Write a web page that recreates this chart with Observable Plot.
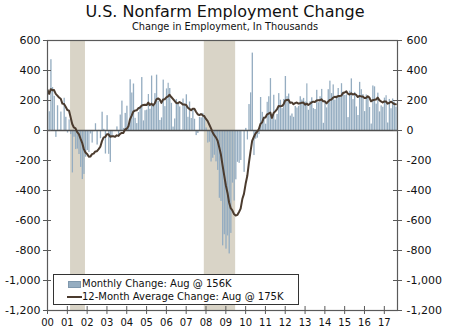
<!DOCTYPE html>
<html>
<head>
<meta charset="utf-8">
<script src="https://cdn.jsdelivr.net/npm/d3@7"></script>
<script src="https://cdn.jsdelivr.net/npm/@observablehq/plot@0.6"></script>
<style>
  body { margin: 0; background: #fff; font-family: "DejaVu Sans", Verdana, sans-serif; }
  #wrap { position: relative; width: 450px; height: 335px; overflow: hidden; }
  #title { position: absolute; top: 2px; left: 0; width: 450px; text-align: center; font-size: 16px; color: #111; line-height: 20px; }
  #sub { position: absolute; top: 21px; left: 0; width: 450px; text-align: center; font-size: 9.8px; color: #111; line-height: 12px; }
  #chart { position: absolute; top: 32px; left: 0; }
  #legend { position: absolute; left: 53px; top: 274px; width: 246px; height: 31px; border: 1px solid #333; background: #fff; box-sizing: border-box; font-size: 10px; color: #111; }
  #legend .sw { position: absolute; left: 14px; top: 6px; width: 13px; height: 7px; background: #95adc1; border: 1px solid #7f98ad; box-sizing: border-box; }
  #legend .ln { position: absolute; left: 13px; top: 21px; width: 15px; height: 2px; background: #4b3b2e; }
  #legend .t1 { position: absolute; left: 28px; top: 3px; line-height: 12px; white-space: nowrap; }
  #legend .t2 { position: absolute; left: 28px; top: 16px; line-height: 12px; white-space: nowrap; }
</style>
</head>
<body>
<div id="wrap">
  <div id="title">U.S. Nonfarm Employment Change</div>
  <div id="sub">Change in Employment, In Thousands</div>
  <div id="chart"></div>
  <div id="legend">
    <span class="sw"></span><span class="t1">Monthly Change: Aug @ 156K</span>
    <span class="ln"></span><span class="t2">12-Month Average Change: Aug @ 175K</span>
  </div>
</div>
<script>
// Monthly change in nonfarm employment (thousands), Jan 1999 .. Aug 2017
// (1999 only primes the 12-month average; the chart starts in Jan 2000)
const firstYear = 1999;
const monthlyChange = [
  245, 455, 91, 370, 213, 263, 305, 148, 225, 386, 254, 297,          // 1999
  249, 125, 472, 286, 228, -46, 165, 2, 123, -2, 215, 88,             // 2000
  -17, 71, -27, -283, -45, -127, -124, -160, -246, -327, -293, -178,  // 2001
  -134, -147, -23, -84, -8, 45, -97, 1, -55, 122, 8, -157,            // 2002
  99, -159, -213, -49, -6, -2, 24, -42, 103, 196, 14, 114,            // 2003
  162, 44, 338, 250, 310, 81, 46, 120, 160, 353, 64, 132,             // 2004
  136, 240, 142, 363, 168, 246, 369, 195, 67, 84, 336, 159,           // 2005
  277, 315, 280, 181, 23, 77, 207, 183, 157, 2, 210, 171,             // 2006
  238, 88, 190, 80, 143, 75, -34, -20, 88, 84, 114, 98,               // 2007
  17, -84, -78, -210, -185, -165, -209, -266, -452, -473, -769, -695, // 2008
  -791, -703, -823, -686, -351, -470, -329, -212, -219, -200, -7, -279, // 2009
  14, -63, 173, 251, 516, -167, -58, -51, -27, 220, 121, 88,          // 2010
  42, 188, 225, 346, 73, 235, 70, 107, 246, 202, 146, 207,            // 2011
  360, 226, 243, 96, 110, 88, 160, 150, 161, 225, 203, 214,           // 2012
  190, 311, 135, 192, 218, 146, 140, 268, 185, 225, 274, 48,          // 2013
  190, 151, 272, 329, 246, 304, 202, 230, 280, 227, 312, 255,         // 2014
  234, 238, 86, 262, 344, 206, 254, 157, 100, 321, 272, 239,          // 2015
  126, 237, 225, 153, 43, 297, 291, 176, 249, 124, 164, 155,          // 2016
  216, 232, 50, 207, 145, 210, 189, 156                               // 2017
];
const recessionStart = ["2001-03-01", "2007-12-01"];
const recessionEnd   = ["2001-12-01", "2009-07-01"];
const yTicks = [-1200, -1000, -800, -600, -400, -200, 0, 200, 400, 600];
const xTickYears = [2000,2001,2002,2003,2004,2005,2006,2007,2008,2009,2010,2011,2012,2013,2014,2015,2016,2017];
const xStart = "2000-01-01";
const xEnd = "2017-09-01";

const rows = monthlyChange.map((v, i) => ({
  date: new Date(Date.UTC(firstYear + Math.floor(i / 12), i % 12, 1)),
  value: v
}));
const recessions = recessionStart.map((s, i) => ({start: new Date(s), end: new Date(recessionEnd[i])}));
const xTicks = xTickYears.map(y => new Date(Date.UTC(y, 0, 1)));

const W = 450, H = 303;
const mL = 47, mR = 53, mT = 8, mB = 25;
const plotW = W - mL - mR, plotH = H - mT - mB;
const fmt = d => d3.format(",")(d).replace("\u2212", "-");
const barColor = "#95adc1";
const lineColor = "#4b3b2e";
const axisColor = "#5a5a5a";

const chart = Plot.plot({
  width: W, height: H,
  marginLeft: mL, marginRight: mR, marginTop: mT, marginBottom: mB,
  style: {fontFamily: "'DejaVu Sans', Verdana, sans-serif", fontSize: "11px", color: "#111", background: "#fff"},
  x: {type: "utc", domain: [new Date(xStart), new Date(xEnd)], label: null},
  y: {domain: [-1200, 600], label: null},
  marks: [
    Plot.rectX(recessions, {x1: "start", x2: "end", fill: "#d9d4c7", clip: true}),
    Plot.rectY(rows, {x: "date", y: "value", interval: "month", fill: barColor, insetRight: 0.35, clip: true}),
    Plot.ruleY([0], {stroke: "#4f4f4f", strokeWidth: 1.5}),
    Plot.lineY(rows, Plot.windowY({k: 12, anchor: "end", reduce: "mean"}, {x: "date", y: "value", stroke: lineColor, strokeWidth: 2, clip: true})),
    Plot.frame({stroke: axisColor, strokeWidth: 1.2}),
    Plot.axisY(yTicks, {anchor: "left", label: null, tickSize: 4, tickPadding: 3, tickFormat: fmt, stroke: axisColor, fontSize: 11}),
    Plot.axisY(yTicks, {anchor: "right", label: null, tickSize: 4, tickPadding: 5, tickFormat: fmt, stroke: axisColor, fontSize: 11}),
    Plot.ruleY(yTicks, {stroke: axisColor, insetRight: plotW - 4}),
    Plot.ruleY(yTicks, {stroke: axisColor, insetLeft: plotW - 4}),
    Plot.axisX(xTicks, {anchor: "bottom", label: null, tickSize: 4, tickPadding: 4, tickFormat: d3.utcFormat("%y"), stroke: axisColor, fontSize: 10}),
    Plot.ruleX(xTicks, {stroke: axisColor, insetTop: plotH - 4})
  ]
});
document.getElementById("chart").appendChild(chart);
</script>
</body>
</html>
